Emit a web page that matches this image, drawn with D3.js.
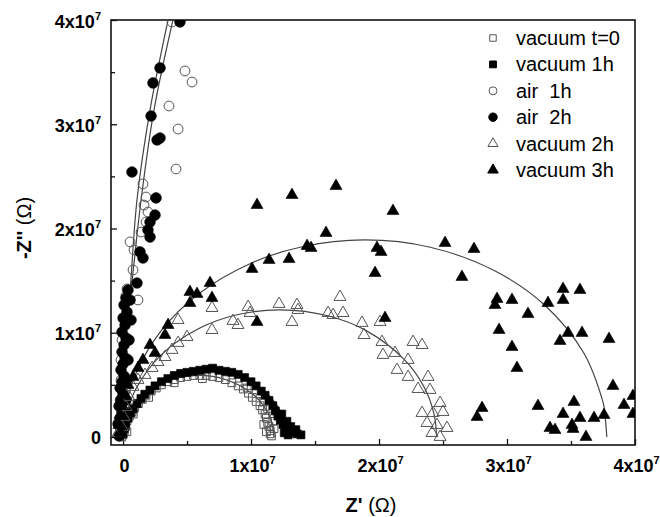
<!DOCTYPE html>
<html><head><meta charset="utf-8">
<script src="https://cdn.jsdelivr.net/npm/d3@7"></script>
<style>
body{margin:0;background:#fff}
svg{display:block}
text{font-family:Arial,"Liberation Sans",Helvetica,sans-serif;fill:#000}
</style>
</head><body>
<svg id="chart" width="660" height="517"></svg>
<script>
// All impedance values below are in units of 10^7 Ω
const UNIT = 1e7;
const majorTicks = [0, 1, 2, 3, 4];
const minorTicks = [0.5, 1.5, 2.5, 3.5];
const tickMantissa = ["0", "1x10", "2x10", "3x10", "4x10"];
const tickExponent = ["", "7", "7", "7", "7"];
const seriesNames = ["vacuum t=0", "vacuum 1h", "air  1h", "air  2h", "vacuum 2h", "vacuum 3h"];

// [Z', -Z'']
const vacuum0 = [[-0.01,0.00],[0.00,0.02],[0.01,0.05],[0.00,0.12],[0.03,0.05],[0.02,0.10],[0.03,0.15],[0.05,0.20],[0.07,0.24],[0.08,0.22],[0.09,0.28],[0.12,0.32],[0.15,0.36],[0.18,0.40],[0.20,0.38],[0.22,0.44],[0.26,0.47],[0.30,0.50],[0.35,0.53],[0.40,0.55],[0.40,0.52],[0.45,0.57],[0.50,0.58],[0.55,0.59],[0.60,0.59],[0.62,0.56],[0.65,0.59],[0.70,0.58],[0.75,0.57],[0.80,0.55],[0.85,0.52],[0.90,0.49],[0.94,0.46],[0.97,0.47],[0.98,0.42],[1.01,0.38],[1.04,0.34],[1.07,0.30],[1.10,0.34],[1.09,0.26],[1.13,0.27],[1.11,0.22],[1.12,0.18],[1.17,0.15],[1.13,0.14],[1.10,0.12],[1.14,0.10],[1.18,0.08],[1.15,0.06],[1.12,0.05],[1.15,0.03],[1.16,0.01]];
const vacuum1h = [[0.00,0.03],[0.01,0.08],[0.02,0.13],[0.04,0.18],[0.06,0.23],[0.08,0.27],[0.11,0.32],[0.14,0.37],[0.17,0.41],[0.21,0.45],[0.25,0.49],[0.30,0.53],[0.35,0.56],[0.40,0.59],[0.45,0.61],[0.50,0.62],[0.55,0.63],[0.60,0.64],[0.65,0.65],[0.70,0.66],[0.75,0.64],[0.80,0.63],[0.85,0.62],[0.90,0.60],[0.95,0.57],[1.00,0.53],[1.04,0.49],[1.08,0.44],[1.11,0.40],[1.14,0.35],[1.17,0.30],[1.19,0.25],[1.24,0.22],[1.21,0.20],[1.23,0.16],[1.28,0.15],[1.25,0.12],[1.31,0.10],[1.27,0.09],[1.35,0.07],[1.30,0.06],[1.33,0.04],[1.26,0.04],[1.36,0.03],[1.29,0.02],[1.39,0.02]];
const air1h = [[0.383,3.981],[0.484,3.511],[0.539,3.405],[0.359,3.175],[0.430,2.954],[0.414,2.571],[0.156,2.427],[0.180,2.302],[0.164,2.225],[0.195,2.158],[0.180,2.062],[0.141,1.966],[0.055,1.871],[0.086,1.794],[0.078,1.602],[0.031,1.420],[0.117,1.314],[0.023,1.353],[0.008,1.141],[-0.008,0.930],[-0.016,0.739],[-0.016,0.547],[-0.023,0.355],[-0.023,0.163],[-0.016,0.048]];
const air2h = [[0.445,3.981],[0.289,3.540],[0.234,3.396],[0.219,3.079],[0.266,2.849],[0.289,2.868],[0.070,2.542],[0.258,2.293],[0.250,2.129],[0.211,2.062],[0.195,1.986],[0.211,1.918],[0.133,1.775],[0.156,1.717],[0.109,1.477],[0.039,1.410],[0.023,1.333],[0.055,1.314],[0.008,1.266],[0.031,1.199],[0.0625,1.122],[0.000,1.141],[0.016,1.074],[-0.008,1.007],[0.023,0.950],[0.047,0.930],[0.008,0.883],[-0.008,0.815],[0.016,0.758],[0.039,0.739],[0.000,0.700],[-0.016,0.643],[0.008,0.585],[0.031,0.547],[-0.008,0.528],[-0.023,0.470],[0.000,0.412],[-0.016,0.355],[0.023,0.355],[-0.031,0.297],[-0.008,0.240],[-0.023,0.182],[0.016,0.163],[-0.039,0.125],[-0.016,0.067],[-0.031,0.010]];
const vacuum2h = [[-0.039,0.038],[-0.008,0.096],[0.008,0.192],[0.023,0.288],[0.047,0.384],[0.078,0.480],[0.117,0.547],[0.172,0.595],[0.227,0.662],[0.273,0.719],[0.328,0.767],[0.383,0.835],[0.430,0.902],[0.500,0.959],[0.695,1.026],[0.430,1.122],[0.695,1.237],[0.859,1.113],[0.898,1.074],[0.992,1.189],[0.977,1.247],[1.219,1.276],[1.359,1.266],[1.367,1.218],[1.320,1.103],[1.602,1.189],[1.641,1.170],[1.719,1.189],[1.695,1.343],[1.867,1.094],[1.883,0.978],[2.008,1.103],[2.023,0.911],[2.266,0.911],[2.336,0.882],[2.031,0.787],[2.125,0.806],[2.227,0.739],[2.141,0.643],[2.227,0.576],[2.383,0.576],[2.305,0.460],[2.398,0.451],[2.477,0.326],[2.336,0.230],[2.422,0.230],[2.500,0.240],[2.375,0.134],[2.453,0.115],[2.531,0.086],[2.414,0.038],[2.477,0.000]];
const vacuum3h = [[1.047,2.225],[1.320,2.321],[1.664,2.408],[2.109,2.168],[1.586,1.957],[1.438,1.832],[1.469,1.813],[1.984,1.813],[2.016,1.775],[2.516,1.861],[2.742,1.803],[1.969,1.573],[2.648,1.535],[1.141,1.698],[1.297,1.707],[1.008,1.612],[0.680,1.477],[0.523,1.391],[0.578,1.372],[0.523,1.285],[0.695,1.333],[0.352,1.074],[1.047,1.103],[2.047,1.141],[0.328,0.978],[0.211,0.882],[0.250,0.806],[0.156,0.739],[0.117,0.662],[0.078,0.576],[0.039,0.499],[0.016,0.403],[-0.008,0.307],[-0.023,0.211],[-0.031,0.115],[-0.016,0.038],[2.922,1.324],[2.906,1.266],[3.039,1.314],[3.164,1.180],[2.938,1.026],[3.039,0.863],[3.078,0.662],[3.320,1.285],[3.438,1.420],[3.570,1.410],[3.438,1.314],[3.477,0.998],[3.586,0.998],[3.414,0.921],[3.797,0.940],[3.828,0.489],[3.914,0.307],[3.984,0.393],[3.984,0.221],[3.242,0.297],[3.523,0.336],[3.438,0.221],[3.570,0.182],[3.680,0.182],[3.758,0.211],[2.805,0.278],[2.766,0.192],[3.336,0.086],[3.375,0.067],[3.508,0.115],[3.516,0.077],[3.617,0.000]];

// fitted curves
const fitVacuum0 = [[0,0],[0.02,0.152],[0.08,0.297],[0.2,0.443],[0.35,0.539],[0.59,0.59],[0.8,0.551],[1.0,0.424],[1.1,0.297],[1.16,0.152],[1.18,0]];
const fitVacuum1h = [[0,0],[0.02,0.159],[0.08,0.31],[0.2,0.465],[0.4,0.593],[0.64,0.64],[0.9,0.585],[1.1,0.445],[1.2,0.31],[1.26,0.159],[1.28,0]];
const fitAir1h = [[-0.016,0],[0,0.355],[0.023,1.029],[0.055,1.41],[0.109,2.273],[0.211,3.137],[0.352,4.0],[0.37,4.1]];
const fitAir2h = [[-0.016,0],[0,0.355],[0.023,1.029],[0.0625,1.41],[0.141,2.273],[0.242,3.137],[0.39,4.0],[0.41,4.1]];
const fitVacuum2h = [[0.01,0],[0.03,0.22],[0.1,0.46],[0.3,0.79],[0.6,1.045],[0.9,1.175],[1.23,1.22],[1.6,1.163],[1.9,1.02],[2.2,0.74],[2.35,0.484],[2.43,0.22],[2.45,0]];
const fitVacuum3h = [[0,0],[0.02,0.274],[0.1,0.607],[0.3,1.022],[0.6,1.381],[1.0,1.667],[1.4,1.825],[1.89,1.89],[2.4,1.82],[2.9,1.597],[3.3,1.259],[3.6,0.805],[3.75,0.335],[3.76,0.274],[3.78,0]];

const svg = d3.select("#chart");
const W = 660, H = 517;
const pLeft = 111, pRight = 635, pTop = 20, pBottom = 445;

const x = d3.scaleLinear().domain([-0.094 * UNIT, 4 * UNIT]).range([pLeft, pRight]);
const y = d3.scaleLinear().domain([-0.077 * UNIT, 4 * UNIT]).range([pBottom, pTop]);

svg.append("rect").attr("width", W).attr("height", H).attr("fill", "#fff");

svg.append("defs").append("clipPath").attr("id", "plotclip")
  .append("rect").attr("x", pLeft).attr("y", pTop).attr("width", pRight - pLeft).attr("height", pBottom - pTop);

// axes (ticks pointing inward)
const xMajor = svg.append("g").attr("transform", `translate(0,${pBottom})`)
  .call(d3.axisBottom(x).tickValues(majorTicks.map(v => v * UNIT)).tickSize(-6).tickFormat(""));
const xMinor = svg.append("g").attr("transform", `translate(0,${pBottom})`)
  .call(d3.axisBottom(x).tickValues(minorTicks.map(v => v * UNIT)).tickSize(-4).tickFormat(""));
const yMajor = svg.append("g").attr("transform", `translate(${pLeft},0)`)
  .call(d3.axisLeft(y).tickValues(majorTicks.map(v => v * UNIT)).tickSize(-6).tickFormat(""));
const yMinor = svg.append("g").attr("transform", `translate(${pLeft},0)`)
  .call(d3.axisLeft(y).tickValues(minorTicks.map(v => v * UNIT)).tickSize(-4).tickFormat(""));
[xMajor, xMinor, yMajor, yMinor].forEach(g => {
  g.select(".domain").remove();
  g.selectAll(".tick line").attr("stroke", "#111").attr("stroke-width", 1.3);
});

function addLabel(sel, i) {
  const t = sel.append("text").attr("font-weight", "bold").attr("font-size", 18).attr("fill", "#000");
  t.append("tspan").text(tickMantissa[i]);
  if (tickExponent[i]) t.append("tspan").attr("font-size", 11).attr("dy", -8).text(tickExponent[i]);
  return t;
}
xMajor.selectAll(".tick").each(function(d, i) {
  addLabel(d3.select(this), i).attr("text-anchor", "middle").attr("y", 27).attr("x", 1);
});
yMajor.selectAll(".tick").each(function(d, i) {
  addLabel(d3.select(this), i).attr("text-anchor", "end").attr("x", -10).attr("y", 7);
});

// frame
svg.append("rect").attr("x", pLeft).attr("y", pTop).attr("width", pRight - pLeft).attr("height", pBottom - pTop)
  .attr("fill", "none").attr("stroke", "#111").attr("stroke-width", 1.6);

// axis titles
const xt = svg.append("text").attr("x", (pLeft + pRight) / 2 - 2).attr("y", 512).attr("text-anchor", "middle").attr("font-size", 20);
xt.append("tspan").attr("font-weight", "bold").text("Z'");
xt.append("tspan").text(" (Ω)");
const yt = svg.append("text").attr("transform", "translate(31,228) rotate(-90)").attr("text-anchor", "middle").attr("font-size", 20);
yt.append("tspan").attr("font-weight", "bold").text("-Z''");
yt.append("tspan").text(" (Ω)");

const plot = svg.append("g").attr("clip-path", "url(#plotclip)");

// fitted curves
const line = d3.line().x(d => x(d[0] * UNIT)).y(d => y(d[1] * UNIT)).curve(d3.curveCatmullRom);
[fitVacuum0, fitVacuum1h, fitVacuum2h, fitVacuum3h, fitAir1h, fitAir2h].forEach(f => {
  plot.append("path").attr("d", line(f)).attr("fill", "none").attr("stroke", "#444").attr("stroke-width", 1.2);
});

// markers
const styles = [
  {data: vacuum0, type: d3.symbolSquare, size: 60, filled: false, lsize: 42},
  {data: vacuum1h, type: d3.symbolSquare, size: 64, filled: true, lsize: 46},
  {data: air1h, type: d3.symbolCircle, size: 75, filled: false, lsize: 50},
  {data: air2h, type: d3.symbolCircle, size: 90, filled: true, lsize: 56},
  {data: vacuum2h, type: d3.symbolTriangle, size: 62, filled: false, lsize: 44},
  {data: vacuum3h, type: d3.symbolTriangle, size: 62, filled: true, lsize: 48}
];
styles.forEach(s => {
  const sym = d3.symbol().type(s.type).size(s.size);
  plot.append("g").selectAll("path").data(s.data).join("path")
    .attr("d", sym)
    .attr("transform", d => `translate(${x(d[0] * UNIT)},${y(d[1] * UNIT)})`)
    .attr("fill", s.filled ? "#000" : "none")
    .attr("stroke", s.filled ? "#000" : "#555")
    .attr("stroke-width", s.filled ? 0.6 : 1);
});

// legend
const legend = svg.append("g");
const rowY = [38, 64.4, 90.8, 117.2, 143.6, 170];
seriesNames.forEach((name, i) => {
  const s = styles[i];
  const g = legend.append("g").attr("transform", `translate(0,${rowY[i]})`);
  g.append("path").attr("d", d3.symbol().type(s.type).size(s.lsize)())
    .attr("transform", "translate(493,0)")
    .attr("fill", s.filled ? "#000" : "#fff")
    .attr("stroke", s.filled ? "#000" : "#555").attr("stroke-width", 1);
  g.append("text").attr("x", 516).attr("y", 7).attr("font-size", 20)
    .style("white-space", "pre").text(name);
});
</script>
</body></html>
